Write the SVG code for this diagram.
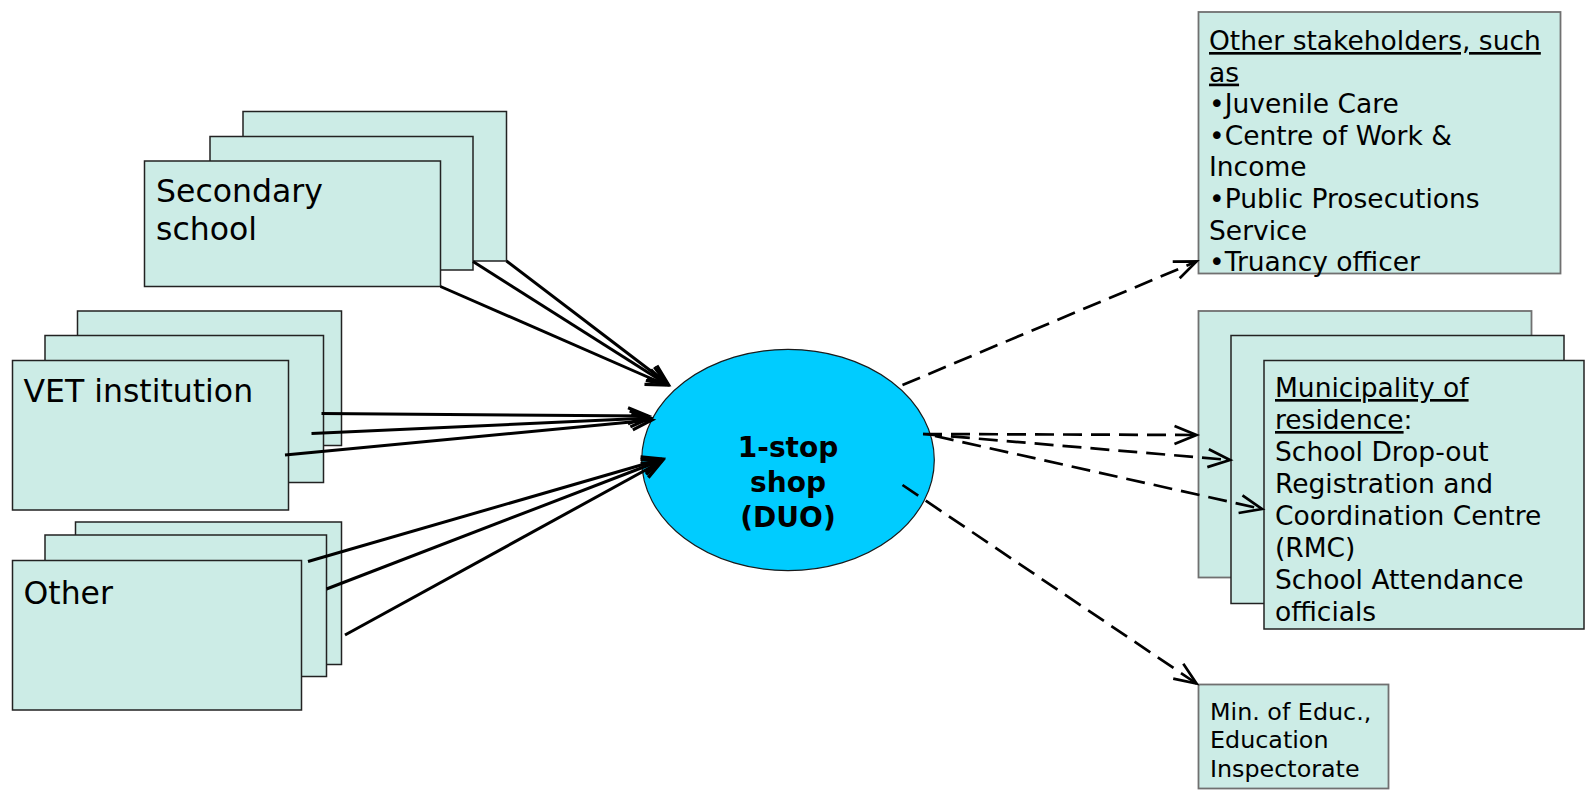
<svg xmlns="http://www.w3.org/2000/svg" width="1585" height="790" viewBox="0 0 1585 790">
<style>
.box{fill:#CCECE6;stroke:#222;stroke-width:1.5}
.gbox{fill:#CCECE6;stroke:#707070;stroke-width:1.8}
.t{font-family:"DejaVu Sans","Verdana",sans-serif;fill:#000}
.big{font-size:31.5px}
.mid{font-size:26.5px}
.sm{font-size:23.8px}
.u{text-decoration:underline}
.solid{fill:none;stroke:#000;stroke-width:3;marker-end:url(#arr)}
.dash{fill:none;stroke:#000;stroke-width:2.7;stroke-dasharray:19 9;marker-end:url(#arr2)}
</style>
<defs>
<marker id="arr" viewBox="-26 -14 32 28" refX="0" refY="0" markerWidth="32" markerHeight="28" markerUnits="userSpaceOnUse" orient="auto">
<path d="M-20,-8 L0,0 L-20,8" fill="none" stroke="#000" stroke-width="3.2"/>
</marker>
<marker id="arr2" viewBox="-26 -14 32 28" refX="0" refY="0" markerWidth="32" markerHeight="28" markerUnits="userSpaceOnUse" orient="auto">
<path d="M-22,-9 L0,0 L-22,9" fill="none" stroke="#000" stroke-width="2.7"/>
</marker>
</defs>
<rect width="1585" height="790" fill="#fff"/>

<g id="secondary-school">
<rect class="box" x="243" y="111.5" width="263.5" height="149.5"/>
<rect class="box" x="210" y="136.5" width="263" height="133.5"/>
<rect class="box" x="144.5" y="161" width="296" height="125.5"/>
<text class="t big" x="156" y="201.5">Secondary</text>
<text class="t big" x="156" y="240">school</text>
</g>

<g id="vet-institution">
<rect class="box" x="77.5" y="311" width="264" height="134.5"/>
<rect class="box" x="45" y="335.5" width="278.5" height="147"/>
<rect class="box" x="12.5" y="360.5" width="276" height="149.5"/>
<text class="t big" x="23.5" y="401.5">VET institution</text>
</g>

<g id="other">
<rect class="box" x="75.5" y="522" width="266" height="142.5"/>
<rect class="box" x="45" y="535" width="281.5" height="141.5"/>
<rect class="box" x="12.5" y="560.5" width="289" height="149.5"/>
<text class="t big" x="23.5" y="603.5">Other</text>
</g>

<g id="one-stop-shop">
<ellipse cx="788" cy="460" rx="146.3" ry="110.7" fill="#00CCFF" stroke="#1a1a1a" stroke-width="1.2"/>
<text class="t" font-size="28" font-weight="bold" text-anchor="middle" x="788" y="456.7">1-stop</text>
<text class="t" font-size="28" font-weight="bold" text-anchor="middle" x="788" y="491.7">shop</text>
<text class="t" font-size="28" font-weight="bold" text-anchor="middle" x="788" y="526.7">(DUO)</text>
</g>

<g id="other-stakeholders">
<rect class="gbox" x="1198.5" y="12" width="362" height="261.5"/>
<text class="t mid">
<tspan x="1209" y="50" class="u">Other stakeholders, such</tspan>
<tspan x="1209" y="81.6" class="u">as</tspan>
<tspan x="1209" y="113.2">•Juvenile Care</tspan>
<tspan x="1209" y="144.8">•Centre of Work &amp;</tspan>
<tspan x="1209" y="176.4">Income</tspan>
<tspan x="1209" y="208">•Public Prosecutions</tspan>
<tspan x="1209" y="239.6">Service</tspan>
<tspan x="1209" y="271.2">•Truancy officer</tspan>
</text>
</g>

<g id="municipality">
<rect class="gbox" x="1198.5" y="311" width="333" height="266.5"/>
<rect class="box" x="1231" y="335.5" width="333" height="268"/>
<rect class="box" x="1264" y="360.5" width="320" height="268.5"/>
<text class="t mid">
<tspan x="1275" y="397"><tspan class="u">Municipality of</tspan></tspan>
<tspan x="1275" y="429"><tspan class="u">residence</tspan>:</tspan>
<tspan x="1275" y="461">School Drop-out</tspan>
<tspan x="1275" y="493">Registration and</tspan>
<tspan x="1275" y="525">Coordination Centre</tspan>
<tspan x="1275" y="557">(RMC)</tspan>
<tspan x="1275" y="589">School Attendance</tspan>
<tspan x="1275" y="621">officials</tspan>
</text>
</g>

<g id="ministry">
<rect class="gbox" x="1198.5" y="684.5" width="190" height="104"/>
<text class="t sm">
<tspan x="1210" y="720">Min. of Educ.,</tspan>
<tspan x="1210" y="748.3">Education</tspan>
<tspan x="1210" y="776.7">Inspectorate</tspan>
</text>
</g>

<g id="connectors">
<line class="solid" x1="506.5" y1="261" x2="668" y2="384"/>
<line class="solid" x1="473" y1="261.5" x2="667" y2="384.5"/>
<line class="solid" x1="440.5" y1="286.5" x2="666" y2="385"/>
<line class="solid" x1="321.5" y1="413.5" x2="648" y2="416"/>
<line class="solid" x1="311.5" y1="433.5" x2="650" y2="418"/>
<line class="solid" x1="285" y1="455" x2="652" y2="420"/>
<line class="solid" x1="308" y1="561.5" x2="662" y2="459"/>
<line class="solid" x1="326.5" y1="589" x2="662" y2="460"/>
<line class="solid" x1="345" y1="635" x2="662" y2="461"/>
<line class="dash" x1="902.5" y1="385" x2="1196.5" y2="261.5"/>
<line class="dash" x1="923" y1="434" x2="1196.5" y2="435"/>
<line class="dash" x1="923" y1="434" x2="1230" y2="460"/>
<line class="dash" x1="935" y1="436" x2="1262" y2="509"/>
<line class="dash" x1="902.5" y1="485" x2="1196.5" y2="683.5"/>
</g>
</svg>
